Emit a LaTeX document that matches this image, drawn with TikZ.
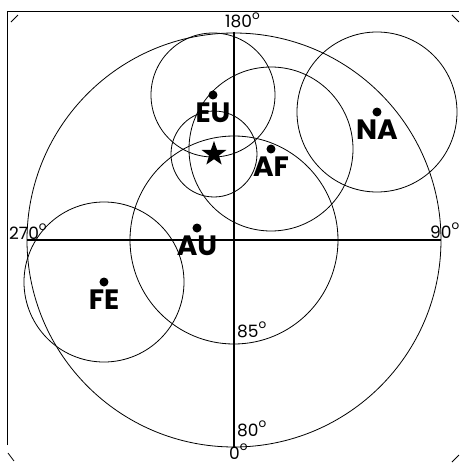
\documentclass[tikz,border=0pt]{standalone}
\usepackage{fontspec}
\usepackage{tikz}
\usetikzlibrary{positioning, shapes.geometric}
\newfontfamily\platefont{Poppins}
\definecolor{ink}{RGB}{0, 0, 0}
\newcommand{\degsign}{\raisebox{0.5em}[0pt][0pt]{\fontsize{12}{12}\selectfont o}}

\begin{document}
\begin{tikzpicture}[x=1pt, y=1pt,
    ring/.style={draw=ink, line width=0.8pt},
    axis/.style={draw=ink, line width=1.3pt},
    pole/.style={circle, fill=ink, inner sep=0pt, minimum size=9pt},
    plate/.style={font=\platefont\bfseries\fontsize{28}{28}\selectfont, inner sep=0pt},
    deg/.style={font=\platefont\fontsize{17}{17}\selectfont, inner sep=0pt}]
  \useasboundingbox (-234,-224) rectangle (225,240);
  % Frame and corner ticks
  \coordinate (fbl) at (-226,-205);
  \coordinate (ftl) at (-226,228);
  \coordinate (ftr) at (225,228);
  \draw[ink, line width=1pt] (fbl) -- (ftl) -- (ftr);
  \draw[ink, line width=0.8pt] (-223,218) -- (-216,225);
  \draw[ink, line width=0.8pt] (218,225) -- (225,218);
  \draw[ink, line width=0.8pt] (-226,-213) -- (-220,-221);
  \draw[ink, line width=0.8pt] (218,-222) -- (225,-215);
  % Latitude circles and axes
  \coordinate (o) at (0,0);
  \draw[ring] (o) circle[radius=207pt];
  \draw[ring] (o) circle[radius=104pt];
  \coordinate (n) at (0,208);
  \coordinate (s) at (0,-207);
  \coordinate (e) at (207,0);
  \coordinate (w) at (-207,0);
  \draw[axis] (w) -- (e);
  \draw[axis] (n) -- (s);
  % Degree labels
  \node[deg, anchor=base west] (l180) at (-9,212) {180\degsign};
  \node[deg, anchor=base west] (l90) at (196,2) {90\degsign};
  \node[deg, anchor=base west] (l270) at (-225,1) {270\degsign};
  \node[deg, anchor=base west] (l0) at (-5,-219) {0\degsign};
  \node[deg, anchor=base west] (l80) at (3,-196) {80\degsign};
  \node[deg, anchor=base west] (l85) at (3,-97) {85\degsign};
  % Poles with their circles
  \node[pole] (eu) at (-21,145) {};
  \draw[ring] (eu) circle[radius=62pt];
  \node[plate, below=3pt of eu] (eulab) {EU};
  \node[pole] (af) at (37,91) {};
  \draw[ring] (af) circle[radius=82pt];
  \node[plate, below=3pt of af] (aflab) {AF};
  \node[pole] (na) at (143,128) {};
  \draw[ring] (na) circle[radius=80pt];
  \node[plate, below=3pt of na] (nalab) {NA};
  \node[pole] (fe) at (-130,-42) {};
  \draw[ring] (fe) circle[radius=80pt];
  \node[plate, below=3pt of fe] (felab) {FE};
  \node[pole] (au) at (-37,12) {};
  \node[plate, below=3pt of au] (aulab) {AU};
  % Mean pole
  \node[star, star points=5, star point ratio=2.5, fill=ink, inner sep=0pt,
        minimum size=26pt] (mean) at (-20,86) {};
  \draw[ring] (mean) circle[radius=43pt];
\end{tikzpicture}
\end{document}
